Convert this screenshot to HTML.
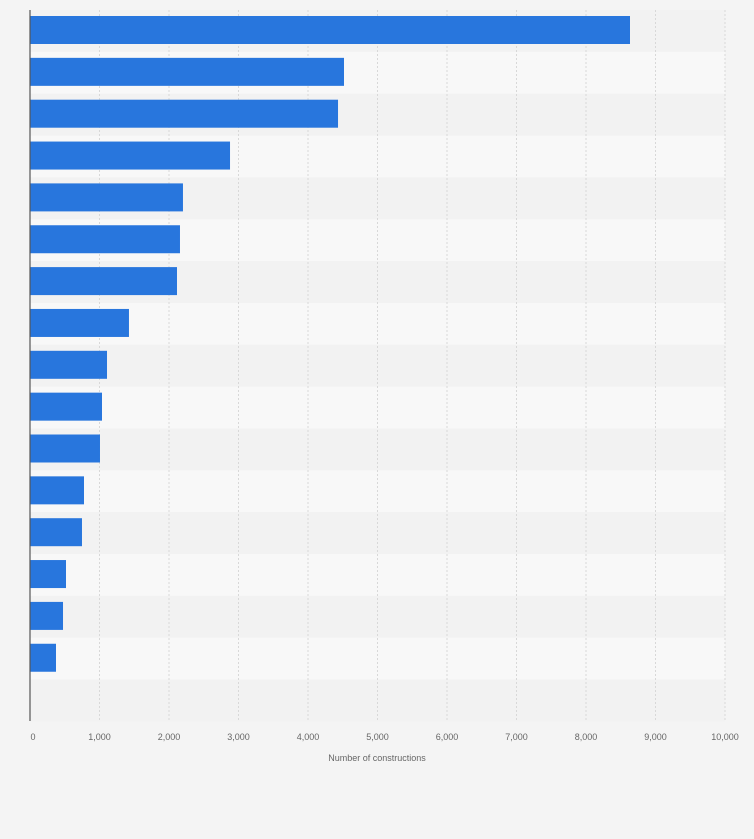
<!DOCTYPE html>
<html><head><meta charset="utf-8"><style>
body{margin:0;background:#f4f4f4;font-family:"Liberation Sans",sans-serif;}
svg{display:block}
</style></head><body>
<svg id="chart" width="754" height="839" xmlns="http://www.w3.org/2000/svg">
<rect width="754" height="839" fill="#f4f4f4"/>
<g id="bands"></g><g id="grid"></g><g id="bars"></g><g id="ticks"></g>
<line x1="30" y1="10" x2="30" y2="721" stroke="#555" stroke-width="1.2"/>
<text x="377" y="761" font-size="9" fill="#666" text-anchor="middle">Number of constructions</text>
</svg>
<script>
const values = [8633, 4518, 4432, 2878, 2201, 2158, 2115, 1424, 1108, 1036, 1007, 777, 748, 518, 475, 374];
const tickValues = [0,1000,2000,3000,4000,5000,6000,7000,8000,9000,10000];
const tickLabels = ["0","1,000","2,000","3,000","4,000","5,000","6,000","7,000","8,000","9,000","10,000"];
const NS="http://www.w3.org/2000/svg";
const x0=30,x1=725,xMax=10000,plotTop=10,bandH=41.85,nBands=17;
const xs=v=>x0+(v/xMax)*(x1-x0);
const ys=i=>plotTop+i*bandH;
function mk(t,a,p){const e=document.createElementNS(NS,t);for(const k in a)e.setAttribute(k,a[k]);p.appendChild(e);return e;}
const bandsG=document.getElementById('bands'),gridG=document.getElementById('grid'),barsG=document.getElementById('bars'),ticksG=document.getElementById('ticks');
for(let i=0;i<nBands;i++){
  const r=mk('rect',{x:x0,y:ys(i),width:x1-x0,height:bandH,fill:i%2?'#f8f8f8':'#f2f2f2'},bandsG);
  
  
}
tickValues.forEach((v,i)=>{
  if(i>0){const l=mk('line',{x1:xs(v),x2:xs(v),y1:plotTop,y2:721,stroke:'#d8d8d8','stroke-dasharray':'2,2'},gridG);
  
  }
  const t=mk('text',{x:xs(v)+(i==0?3:0),y:740,'font-size':9,fill:'#666','text-anchor':'middle'},ticksG);
  t.textContent=tickLabels[i];
  
  
});
values.forEach((v,i)=>{
  const b=mk('rect',{x:x0,y:ys(i)+6,width:xs(v)-x0,height:28,fill:'#2876dd'},barsG);
  
  
});
</script>
</body></html>
